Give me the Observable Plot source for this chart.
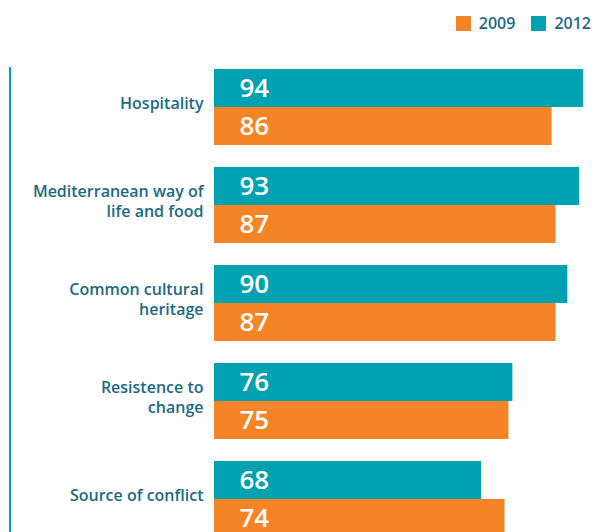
<!DOCTYPE html>
<html>
<head>
<meta charset="utf-8">
<script src="https://cdn.jsdelivr.net/npm/d3@7"></script>
<script src="https://cdn.jsdelivr.net/npm/@observablehq/plot@0.6"></script>
<style>
  html, body { margin: 0; padding: 0; background: #fff; overflow: hidden; }
  body { width: 596px; height: 532px; position: relative; font-family: "Open Sans", sans-serif; }
  #legend { position: absolute; top: 12px; right: 5px; display: flex; align-items: center; font-size: 16px; font-weight: 600; color: #1c6a82; }
  #legend .sw { width: 15px; height: 15px; display: inline-block; margin-right: 8px; }
  #legend .item { display: flex; align-items: center; margin-left: 16px; }
  #rule { position: absolute; left: 9px; top: 67px; width: 2px; height: 470px; background: #00a1b0; }
  #chart { position: absolute; left: 0; top: 0; }
</style>
</head>
<body>
<div id="legend"></div>
<div id="rule"></div>
<div id="chart"></div>
<script>
const categories = ["Hospitality", "Mediterranean way of\nlife and food", "Common cultural\nheritage", "Resistence to\nchange", "Source of conflict"];
const years = ["2012", "2009"];
const values2012 = [94, 93, 90, 76, 68];
const values2009 = [86, 87, 87, 75, 74];
const colors = {"2009": "#f58426", "2012": "#00a1b0"};
const legendOrder = ["2009", "2012"];

const data = [];
categories.forEach((c, i) => {
  data.push({category: c, year: "2012", value: values2012[i]});
  data.push({category: c, year: "2009", value: values2009[i]});
});

const legend = document.getElementById("legend");
legendOrder.forEach(y => {
  const item = document.createElement("span");
  item.className = "item";
  item.innerHTML = `<span class="sw" style="background:${colors[y]}"></span>${y}`;
  legend.appendChild(item);
});

const chart = Plot.plot({
  width: 596,
  height: 537,
  marginTop: 68,
  marginBottom: 0,
  marginLeft: 214,
  marginRight: 0,
  style: {fontFamily: "Open Sans, sans-serif", background: "transparent"},
  x: {domain: [0, 97.3], axis: null},
  y: {domain: years, padding: 0, axis: null},
  fy: {domain: categories, paddingInner: 0.2265, paddingOuter: 0, axis: null},
  color: {domain: legendOrder, range: legendOrder.map(y => colors[y])},
  marks: [
    Plot.barX(data, {fy: "category", y: "year", x: "value", fill: "year", inset: 0}),
    Plot.text(data, {fy: "category", y: "year", text: d => String(d.value), frameAnchor: "left", dx: 25, textAnchor: "start", fill: "white", fontSize: 26, fontWeight: 600}),
    Plot.text(categories, {fy: d => d, text: d => d, frameAnchor: "left", dx: -11, dy: -5, textAnchor: "end", lineAnchor: "middle", lineHeight: 1.25, fill: "#1c6a82", fontSize: 16, fontWeight: 600})
  ]
});
document.getElementById("chart").appendChild(chart);
</script>
</body>
</html>
